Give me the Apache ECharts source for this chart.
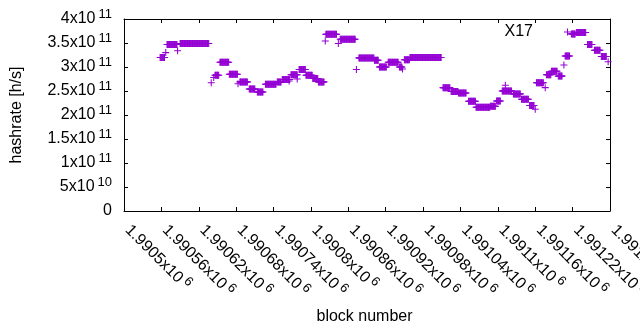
<!DOCTYPE html>
<html>
<head>
<meta charset="utf-8">
<script src="https://cdn.jsdelivr.net/npm/echarts@6/dist/echarts.min.js"></script>
<style>
  html, body { margin: 0; padding: 0; background: #fff; }
  #chart { width: 640px; height: 330px; }
</style>
</head>
<body>
<div id="chart"></div>
<script>
// runs of blocks with the same hashrate (start block, end block, value)
var runStart = [1990558, 1990569, 1990590, 1990646, 1990654, 1990669, 1990686, 1990701, 1990714, 1990727,
  1990746, 1990754, 1990768, 1990781, 1990792, 1990803, 1990812, 1990824, 1990847, 1990877,
  1990902, 1990910, 1990924, 1990942, 1990950, 1990959, 1991012, 1991025, 1991037, 1991053,
  1991065, 1991088, 1991098, 1991107, 1991125, 1991138, 1991151, 1991162, 1991178, 1991186,
  1991197, 1991208, 1991218, 1991226, 1991244, 1991255, 1991266];
var runEnd = [1990565, 1990585, 1990636, 1990652, 1990668, 1990682, 1990698, 1990710, 1990723, 1990744,
  1990752, 1990766, 1990778, 1990791, 1990802, 1990811, 1990821, 1990841, 1990871, 1990901,
  1990908, 1990921, 1990940, 1990946, 1990958, 1991009, 1991023, 1991036, 1991049, 1991064,
  1991087, 1991096, 1991104, 1991122, 1991136, 1991149, 1991158, 1991173, 1991185, 1991195,
  1991203, 1991215, 1991224, 1991241, 1991251, 1991264, 1991274];
var runValue = [3.20e11, 3.47e11, 3.49e11, 2.83e11, 3.10e11, 2.85e11, 2.69e11, 2.54e11, 2.48e11, 2.64e11,
  2.69e11, 2.74e11, 2.84e11, 2.95e11, 2.83e11, 2.76e11, 2.69e11, 3.68e11, 3.58e11, 3.19e11,
  3.14e11, 3.00e11, 3.10e11, 3.00e11, 3.15e11, 3.20e11, 2.57e11, 2.49e11, 2.46e11, 2.285e11,
  2.16e11, 2.18e11, 2.29e11, 2.50e11, 2.44e11, 2.33e11, 2.20e11, 2.67e11, 2.84e11, 2.91e11,
  2.81e11, 3.23e11, 3.69e11, 3.72e11, 3.47e11, 3.35e11, 3.22e11];

// isolated blocks
var pointBlock = [1990567, 1990586, 1990640, 1990644, 1990683, 1990765, 1990778, 1990823, 1990844, 1990873,
  1990947, 1991112, 1991160, 1991176, 1991206, 1991277];
var pointValue = [3.30e11, 3.34e11, 2.67e11, 2.78e11, 2.65e11, 2.71e11, 2.75e11, 3.54e11, 3.49e11, 2.95e11,
  2.96e11, 2.62e11, 2.12e11, 2.57e11, 3.04e11, 3.11e11];

var seriesName = 'X17';
var xMin = 1990500, xMax = 1991280, xStep = 60;
var yMin = 0, yMax = 4e11, yStep = 5e10;

var data = [];
for (var i = 0; i < runStart.length; i++) {
  for (var b = runStart[i]; b <= runEnd[i]; b++) data.push([b, runValue[i]]);
}
for (var j = 0; j < pointBlock.length; j++) data.push([pointBlock[j], pointValue[j]]);

var plus = 'path://M3.4,0L4.6,0L4.6,3.4L8,3.4L8,4.6L4.6,4.6L4.6,8L3.4,8L3.4,4.6L0,4.6L0,3.4L3.4,3.4Z';
var font = 'Liberation Sans';

function sci(v) {
  if (v === 0) return '{a|0}';
  var e = Math.floor(Math.log10(Math.abs(v)) + 1e-9);
  var m = parseFloat((v / Math.pow(10, e)).toFixed(5));
  return '{a|' + m + 'x10}{s|' + e + '}';
}
var rich = {
  a: { fontSize: 16, fontFamily: font, color: '#000' },
  s: { fontSize: 13, fontFamily: font, color: '#000', padding: [0, 0, 9, 3] }
};

var frame = { show: true, onZero: false, lineStyle: { color: '#000', width: 1 } };
var ticks = { show: true, inside: true, length: 4, lineStyle: { color: '#000' } };

var chart = echarts.init(document.getElementById('chart'), null, { renderer: 'canvas' });
chart.setOption({
  animation: false,
  backgroundColor: '#fff',
  grid: { left: 124, right: 30, top: 19, bottom: 119, outerBoundsMode: 'none' },
  legend: {
    data: [seriesName],
    right: 69, top: 24, padding: 0,
    align: 'right',
    icon: plus, itemWidth: 7, itemHeight: 7,
    textStyle: { fontSize: 16, fontFamily: font, color: '#000', padding: [0, 26, 0, 0] }
  },
  xAxis: [{
    type: 'value', min: xMin, max: xMax, interval: xStep,
    axisLine: frame, axisTick: ticks, splitLine: { show: false },
    axisLabel: { rotate: -45, margin: 13, padding: [0, 0, 0, 5], formatter: sci, rich: rich },
    name: 'block number', nameLocation: 'middle', nameGap: 98,
    nameTextStyle: { fontSize: 16, fontFamily: font, color: '#000', padding: [0, 5, 0, 0] }
  }, {
    type: 'value', position: 'top', min: xMin, max: xMax, interval: xStep,
    axisLine: frame, axisTick: ticks, splitLine: { show: false }, axisLabel: { show: false }
  }],
  yAxis: [{
    type: 'value', min: yMin, max: yMax, interval: yStep,
    axisLine: frame, axisTick: ticks, splitLine: { show: false },
    axisLabel: { margin: 12, formatter: sci, rich: rich },
    name: 'hashrate [h/s]', nameLocation: 'middle', nameGap: 99,
    nameTextStyle: { fontSize: 16, fontFamily: font, color: '#000' }
  }, {
    type: 'value', position: 'right', min: yMin, max: yMax, interval: yStep,
    axisLine: frame, axisTick: ticks, splitLine: { show: false }, axisLabel: { show: false }
  }],
  series: [{
    name: seriesName,
    type: 'scatter',
    symbol: plus,
    symbolSize: 7,
    itemStyle: { color: '#9400d3', opacity: 1 },
    data: data
  }]
});
</script>
</body>
</html>
